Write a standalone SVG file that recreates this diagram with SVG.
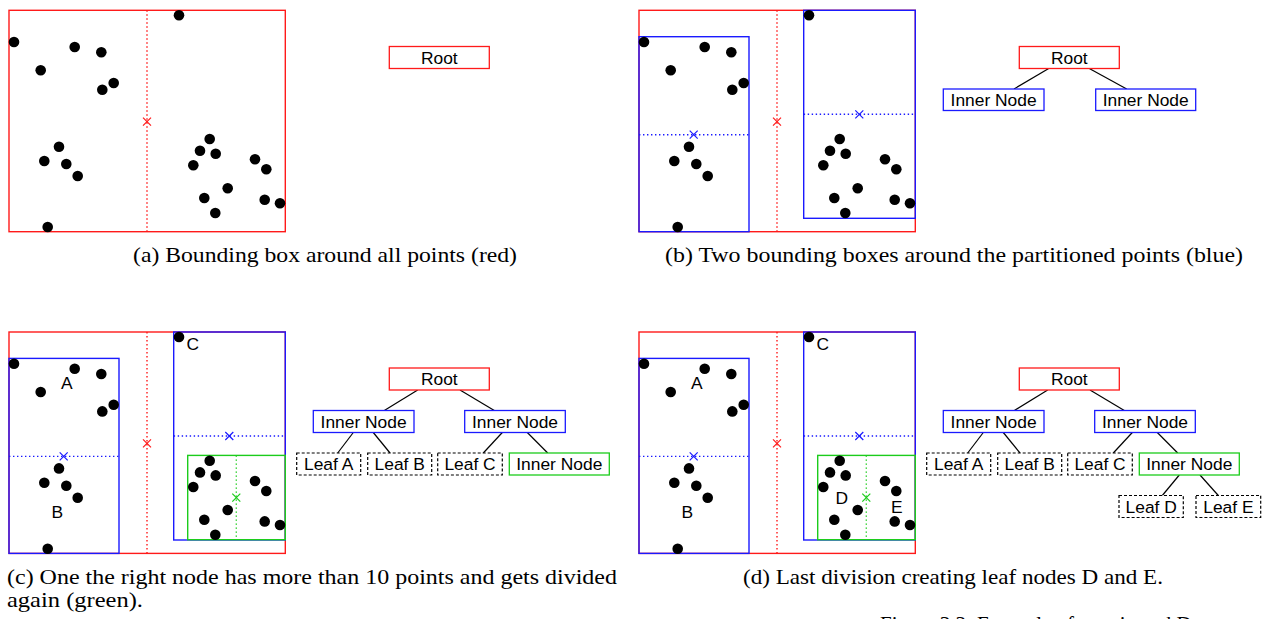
<svg xmlns="http://www.w3.org/2000/svg" xmlns:xlink="http://www.w3.org/1999/xlink" width="1271" height="619" viewBox="0 0 1271 619">
<style>
.red{stroke:#ff1a1a;fill:none;stroke-width:1.4}
.blue{stroke:#1a1aff;fill:none;stroke-width:1.4}
.green{stroke:#1ccc1c;fill:none;stroke-width:1.4}
.dot{stroke-dasharray:1.4 2.6}
.xm{stroke-width:1.2;fill:none}
.nd{fill:#fff;stroke-width:1.3}
.leaf{fill:#fff;stroke:#000;stroke-width:1.2;stroke-dasharray:3 2}
.edge{stroke:#000;stroke-width:1.2;fill:none}
.t{font-family:"Liberation Sans",Arial,sans-serif;font-size:17.4px;fill:#000;text-anchor:middle}
.cap{font-family:"Liberation Serif","Times New Roman",serif;font-size:21.5px;fill:#000}
</style>
<defs>
<g id="pts" fill="#000">
<circle cx="179" cy="15.3" r="5.3"/><circle cx="14" cy="42" r="5.3"/><circle cx="74.7" cy="47" r="5.3"/>
<circle cx="101.3" cy="52.3" r="5.3"/><circle cx="40.7" cy="70.3" r="5.3"/><circle cx="113.7" cy="83" r="5.3"/>
<circle cx="102.3" cy="89.7" r="5.3"/><circle cx="59" cy="146.7" r="5.3"/><circle cx="44.3" cy="161" r="5.3"/>
<circle cx="66.3" cy="164" r="5.3"/><circle cx="77.7" cy="176" r="5.3"/><circle cx="47.7" cy="227" r="5.3"/>
<circle cx="209.7" cy="139" r="5.3"/><circle cx="200" cy="150.7" r="5.3"/><circle cx="215.7" cy="153.7" r="5.3"/>
<circle cx="193.3" cy="165.3" r="5.3"/><circle cx="255" cy="159.3" r="5.3"/><circle cx="266.3" cy="169.3" r="5.3"/>
<circle cx="227.7" cy="188.3" r="5.3"/><circle cx="204.3" cy="198" r="5.3"/><circle cx="264.7" cy="199.7" r="5.3"/>
<circle cx="280" cy="203.3" r="5.3"/><circle cx="215.3" cy="213" r="5.3"/>
</g>
<g id="redpart">
<rect class="red" x="9" y="10.3" width="276.3" height="221.4"/>
<line class="red dot" x1="147" y1="10.3" x2="147" y2="231.7"/>
<path class="xm" stroke="#ff1a1a" d="M143 117.7L151 125.7M151 117.7L143 125.7"/>
</g>
<g id="bluepart">
<rect class="blue" x="9" y="36.7" width="110" height="195"/>
<rect class="blue" x="173.7" y="10.3" width="111.6" height="208"/>
<line class="blue dot" x1="9" y1="134.7" x2="119" y2="134.7"/>
<line class="blue dot" x1="173.7" y1="114.3" x2="285.3" y2="114.3"/>
<path class="xm" stroke="#1a1aff" d="M59.7 130.7L67.7 138.7M67.7 130.7L59.7 138.7M225.3 110.3L233.3 118.3M233.3 110.3L225.3 118.3"/>
</g>
<g id="greenpart">
<rect class="green" x="187.7" y="133.7" width="97.6" height="84.3"/>
<line class="green dot" x1="236.3" y1="133.7" x2="236.3" y2="218"/>
<path class="xm" stroke="#1ccc1c" d="M232.3 172L240.3 180M240.3 172L232.3 180"/>
</g>
</defs>

<g id="panel-a">
<use xlink:href="#redpart"/>
<use xlink:href="#pts"/>
</g>
<g id="panel-b" transform="translate(630,0)">
<use xlink:href="#redpart"/>
<use xlink:href="#bluepart"/>
<use xlink:href="#pts"/>
</g>
<g id="panel-c" transform="translate(0,321.7)">
<use xlink:href="#redpart"/>
<use xlink:href="#bluepart"/>
<use xlink:href="#greenpart"/>
<use xlink:href="#pts"/>
<text class="t" x="66.7" y="67.8">A</text>
<text class="t" x="57.3" y="196.8">B</text>
<text class="t" x="192.7" y="28.5">C</text>
</g>
<g id="panel-d" transform="translate(630,321.7)">
<use xlink:href="#redpart"/>
<use xlink:href="#bluepart"/>
<use xlink:href="#greenpart"/>
<use xlink:href="#pts"/>
<text class="t" x="66.7" y="67.8">A</text>
<text class="t" x="57.3" y="196.8">B</text>
<text class="t" x="192.7" y="28.5">C</text>
<text class="t" x="211.7" y="182.8">D</text>
<text class="t" x="266.7" y="191.2">E</text>
</g>

<g id="connectors">
<line class="edge" x1="1048.7" y1="68.5" x2="1014" y2="89"/>
<line class="edge" x1="1089.3" y1="68.5" x2="1126.7" y2="89"/>
<line class="edge" x1="417.7" y1="390" x2="384.3" y2="410.5"/>
<line class="edge" x1="460" y1="390" x2="494.3" y2="410.5"/>
<line class="edge" x1="353.3" y1="432.5" x2="337.7" y2="453"/>
<line class="edge" x1="373.3" y1="432.5" x2="390" y2="453"/>
<line class="edge" x1="502.3" y1="432.5" x2="483.3" y2="453"/>
<line class="edge" x1="527.3" y1="432.5" x2="547.7" y2="453"/>
<line class="edge" x1="1047.7" y1="390" x2="1014.3" y2="410.5"/>
<line class="edge" x1="1090" y1="390" x2="1124.3" y2="410.5"/>
<line class="edge" x1="983.3" y1="432.5" x2="967.7" y2="453"/>
<line class="edge" x1="1003.3" y1="432.5" x2="1020" y2="453"/>
<line class="edge" x1="1132.3" y1="432.5" x2="1113.3" y2="453"/>
<line class="edge" x1="1157.3" y1="432.5" x2="1177.7" y2="453"/>
<line class="edge" x1="1179.3" y1="475" x2="1162.3" y2="495.5"/>
<line class="edge" x1="1200" y1="475" x2="1218.3" y2="495.5"/>
</g>

<g id="a-root"><rect class="nd" stroke="#ff1a1a" x="389.3" y="46.5" width="100" height="22"/><text class="t" x="439.3" y="63.8">Root</text></g>

<g id="b-root"><rect class="nd" stroke="#ff1a1a" x="1019.3" y="46.5" width="100" height="22"/><text class="t" x="1069.3" y="63.8">Root</text></g>
<g id="b-inner-l"><rect class="nd" stroke="#1a1aff" x="943.3" y="89" width="100.7" height="21.5"/><text class="t" x="993.6" y="106">Inner Node</text></g>
<g id="b-inner-r"><rect class="nd" stroke="#1a1aff" x="1095.7" y="89" width="100" height="21.5"/><text class="t" x="1145.7" y="106">Inner Node</text></g>

<g id="c-root"><rect class="nd" stroke="#ff1a1a" x="389.3" y="368" width="100" height="22"/><text class="t" x="439.3" y="385.2">Root</text></g>
<g id="c-inner-l"><rect class="nd" stroke="#1a1aff" x="313.3" y="410.5" width="100.7" height="22"/><text class="t" x="363.6" y="427.7">Inner Node</text></g>
<g id="c-inner-r"><rect class="nd" stroke="#1a1aff" x="464.7" y="410.5" width="100.6" height="22"/><text class="t" x="515" y="427.7">Inner Node</text></g>
<g id="c-leaf-a"><rect class="leaf" x="296.7" y="453" width="64" height="22"/><text class="t" x="328.7" y="470.2">Leaf A</text></g>
<g id="c-leaf-b"><rect class="leaf" x="367.7" y="453" width="64" height="22"/><text class="t" x="399.7" y="470.2">Leaf B</text></g>
<g id="c-leaf-c"><rect class="leaf" x="437.7" y="453" width="64.6" height="22"/><text class="t" x="470" y="470.2">Leaf C</text></g>
<g id="c-inner-g"><rect class="nd" stroke="#1ccc1c" x="509.3" y="453" width="100" height="22"/><text class="t" x="559.3" y="470.2">Inner Node</text></g>

<g id="d-root"><rect class="nd" stroke="#ff1a1a" x="1019.3" y="368" width="100" height="22"/><text class="t" x="1069.3" y="385.2">Root</text></g>
<g id="d-inner-l"><rect class="nd" stroke="#1a1aff" x="943.3" y="410.5" width="100.7" height="22"/><text class="t" x="993.6" y="427.7">Inner Node</text></g>
<g id="d-inner-r"><rect class="nd" stroke="#1a1aff" x="1094.7" y="410.5" width="100.6" height="22"/><text class="t" x="1145" y="427.7">Inner Node</text></g>
<g id="d-leaf-a"><rect class="leaf" x="926.7" y="453" width="64" height="22"/><text class="t" x="958.7" y="470.2">Leaf A</text></g>
<g id="d-leaf-b"><rect class="leaf" x="997.7" y="453" width="64" height="22"/><text class="t" x="1029.7" y="470.2">Leaf B</text></g>
<g id="d-leaf-c"><rect class="leaf" x="1067.7" y="453" width="64.6" height="22"/><text class="t" x="1100" y="470.2">Leaf C</text></g>
<g id="d-inner-g"><rect class="nd" stroke="#1ccc1c" x="1139.3" y="453" width="100" height="22"/><text class="t" x="1189.3" y="470.2">Inner Node</text></g>
<g id="d-leaf-d"><rect class="leaf" x="1119" y="495.5" width="64.3" height="22"/><text class="t" x="1151.2" y="512.7">Leaf D</text></g>
<g id="d-leaf-e"><rect class="leaf" x="1196" y="495.5" width="64.7" height="22"/><text class="t" x="1228.4" y="512.7">Leaf E</text></g>

<g id="captions">
<text class="cap" x="133" y="262" textLength="384" lengthAdjust="spacingAndGlyphs">(a) Bounding box around all points (red)</text>
<text class="cap" x="665" y="262" textLength="578" lengthAdjust="spacingAndGlyphs">(b) Two bounding boxes around the partitioned points (blue)</text>
<text class="cap" x="7" y="584" textLength="610" lengthAdjust="spacingAndGlyphs">(c) One the right node has more than 10 points and gets divided</text>
<text class="cap" x="7" y="607" textLength="136" lengthAdjust="spacingAndGlyphs">again (green).</text>
<text class="cap" x="743" y="584" textLength="420" lengthAdjust="spacingAndGlyphs">(d) Last division creating leaf nodes D and E.</text>
<text class="cap" x="880" y="631" textLength="350" lengthAdjust="spacingAndGlyphs">Figure 3.3: Example of creating a kD-tree</text>
</g>
</svg>
